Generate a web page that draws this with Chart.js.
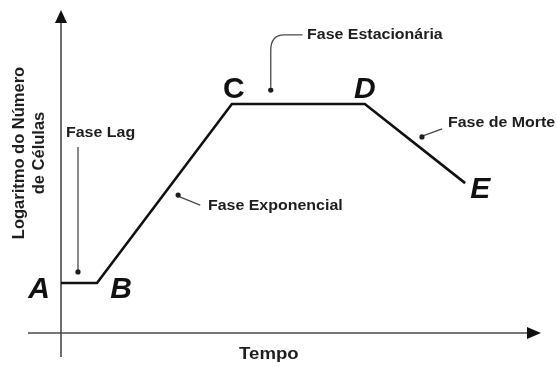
<!DOCTYPE html>
<html>
<head>
    <title>Curva de Crescimento Bacteriano</title>
    <script src="https://cdn.jsdelivr.net/npm/chart.js"></script>
    <style>
        body { margin: 0; background: #fff; }
    </style>
</head>
<body>
    <canvas id="myChart" width="557" height="367"></canvas>
    <script>
// dados (tempo em unidades arbitrarias, log do numero de celulas)
const tempo = [0, 7.5, 35.6, 63.3, 84.2];
const logCelulas = [1.55, 1.55, 7.09, 7.09, 4.64];
const pontos = ['A', 'B', 'C', 'D', 'E'];
const fases = ['Fase Lag', 'Fase Exponencial', 'Fase Estacionária', 'Fase de Morte'];
const tituloX = 'Tempo';
const tituloY = ['Logaritmo do Número', 'de Células'];

const FONT = '"Liberation Sans", Arial, sans-serif';
const INK = '#1e1e1e';
const GRAY = '#4a4a4a';

// texto um pouco esticado na horizontal, como na figura original
function texto(ctx, str, x, y, size, sx, align) {
    ctx.save();
    ctx.translate(x, y);
    ctx.scale(sx, 1);
    ctx.font = 'bold ' + size + 'px ' + FONT;
    ctx.textAlign = align || 'left';
    ctx.textBaseline = 'middle';
    ctx.fillStyle = INK;
    ctx.fillText(str, 0, 0);
    ctx.restore();
}

function ponto(ctx, x, y) {
    ctx.beginPath();
    ctx.arc(x, y, 2.6, 0, Math.PI * 2);
    ctx.fillStyle = INK;
    ctx.fill();
}

const eixos = {
    id: 'eixos',
    beforeDatasetsDraw(chart) {
        const { ctx, chartArea, scales } = chart;
        const x0 = scales.x.getPixelForValue(0);
        const y0 = scales.y.getPixelForValue(0);
        ctx.save();
        ctx.strokeStyle = GRAY;
        ctx.fillStyle = '#111';
        ctx.lineWidth = 1.6;
        // eixo y
        ctx.beginPath();
        ctx.moveTo(x0, chartArea.bottom + 24);
        ctx.lineTo(x0, chartArea.top + 10);
        ctx.stroke();
        ctx.beginPath();
        ctx.moveTo(x0, chartArea.top);
        ctx.lineTo(x0 - 6, chartArea.top + 13);
        ctx.lineTo(x0 + 6, chartArea.top + 13);
        ctx.closePath();
        ctx.fill();
        // eixo x
        ctx.beginPath();
        ctx.moveTo(chartArea.left - 33, y0);
        ctx.lineTo(chartArea.right - 10, y0);
        ctx.stroke();
        ctx.beginPath();
        ctx.moveTo(chartArea.right, y0);
        ctx.lineTo(chartArea.right - 14, y0 - 6);
        ctx.lineTo(chartArea.right - 14, y0 + 6);
        ctx.closePath();
        ctx.fill();
        ctx.restore();

        // titulos dos eixos
        texto(ctx, tituloX, scales.x.getPixelForValue(43.3), chartArea.bottom + 22, 16, 1.16, 'center');
        ctx.save();
        ctx.translate(19, 153);
        ctx.rotate(-Math.PI / 2);
        texto(ctx, tituloY[0], 0, 0, 16.5, 1, 'center');
        texto(ctx, tituloY[1], 0, 20, 16.5, 1, 'center');
        ctx.restore();
    },
    afterDatasetsDraw(chart) {
        const { ctx, scales } = chart;
        const px = v => scales.x.getPixelForValue(v);
        const py = v => scales.y.getPixelForValue(v);

        // letras A-E junto aos pontos da curva
        const meta = chart.getDatasetMeta(0);
        const desloc = [[-22, 15, true], [24, 15, true], [2, -6, false], [0, -6, true], [15, 15, true]];
        ctx.save();
        ctx.fillStyle = '#111';
        ctx.textAlign = 'center';
        ctx.textBaseline = 'alphabetic';
        meta.data.forEach((el, i) => {
            const d = desloc[i];
            ctx.font = (d[2] ? 'italic ' : '') + 'bold 30px ' + FONT;
            ctx.fillText(pontos[i], el.x + d[0], el.y + d[1]);
        });
        ctx.restore();

        // setas das fases
        ctx.save();
        ctx.strokeStyle = GRAY;
        ctx.lineWidth = 1.3;

        ctx.beginPath();
        ctx.moveTo(px(3.54), py(5.76));
        ctx.lineTo(px(3.54), py(1.95));
        ctx.stroke();
        ponto(ctx, px(3.54), py(1.89));

        ctx.beginPath();
        ctx.moveTo(px(29.0), py(3.96));
        ctx.lineTo(px(24.6), py(4.22));
        ctx.stroke();
        ponto(ctx, px(24.4), py(4.27));

        ctx.beginPath();
        ctx.moveTo(px(50.3), py(9.23));
        ctx.lineTo(px(46.5), py(9.23));
        ctx.quadraticCurveTo(px(43.7), py(9.23), px(43.7), py(8.75));
        ctx.lineTo(px(43.7), py(7.6));
        ctx.stroke();
        ponto(ctx, px(43.7), py(7.52));

        ctx.beginPath();
        ctx.moveTo(px(79.4), py(6.32));
        ctx.lineTo(px(75.4), py(6.1));
        ctx.stroke();
        ponto(ctx, px(75.2), py(6.07));
        ctx.restore();

        texto(ctx, fases[0], px(1.04), py(6.19), 14, 1.14);
        texto(ctx, fases[1], px(30.6), py(3.93), 14, 1.14);
        texto(ctx, fases[2], px(51.25), py(9.23), 14, 1.14);
        texto(ctx, fases[3], px(80.6), py(6.5), 14, 1.14);
    }
};

const ctx = document.getElementById('myChart').getContext('2d');

const chart = new Chart(ctx, {
    type: 'line',
    data: {
        datasets: [{
            label: 'Crescimento',
            data: tempo.map((t, i) => ({ x: t, y: logCelulas[i] })),
            borderColor: '#111',
            borderWidth: 2.6,
            pointRadius: 0,
            tension: 0,
            clip: false
        }]
    },
    options: {
        responsive: false,
        animation: false,
        layout: {
            padding: { left: 61, right: 16, top: 10, bottom: 34 }
        },
        scales: {
            x: { type: 'linear', min: 0, max: 100, display: false },
            y: { type: 'linear', min: 0, max: 10, display: false }
        },
        plugins: {
            legend: { display: false },
            tooltip: { enabled: false }
        }
    },
    plugins: [eixos]
});
    </script>
</body>
</html>
